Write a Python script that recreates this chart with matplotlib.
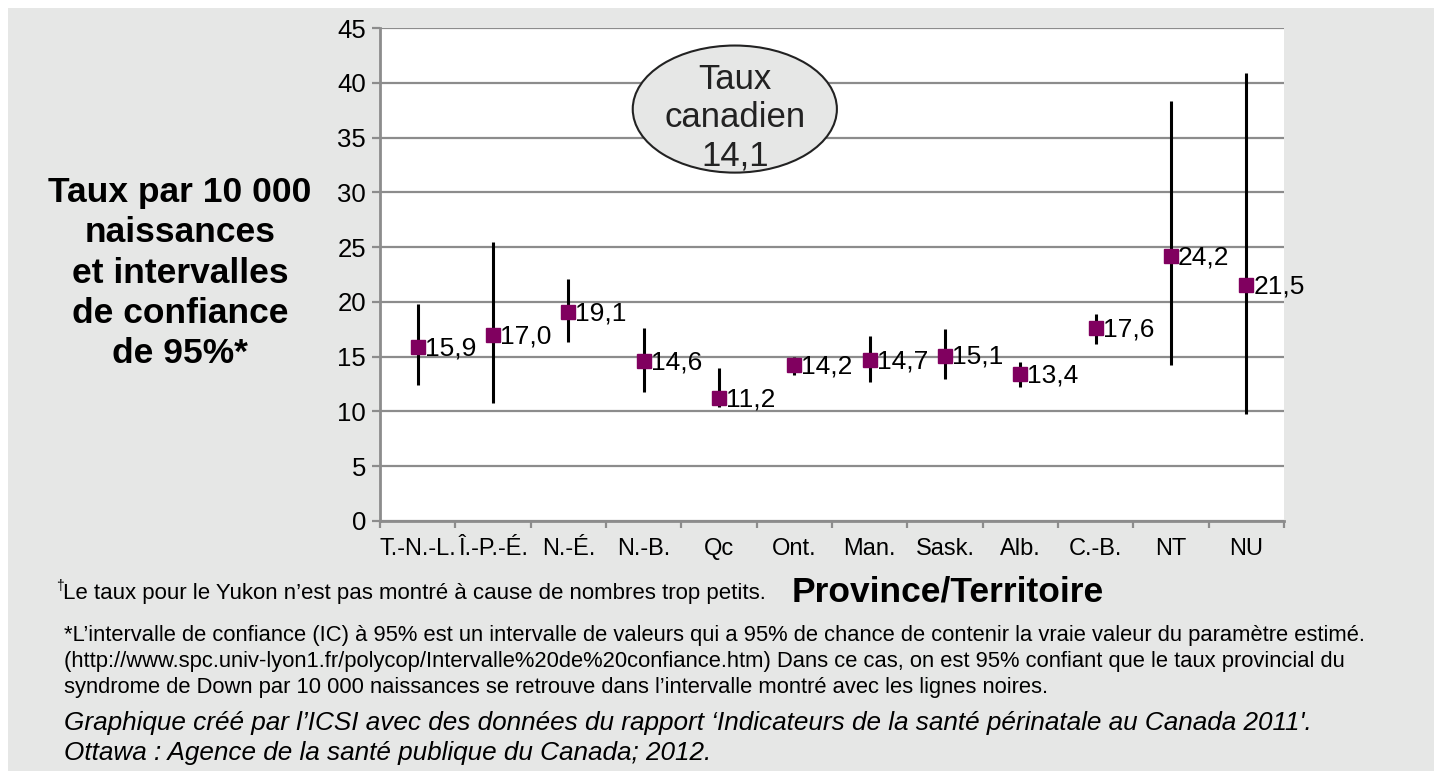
import numpy as np
import matplotlib
matplotlib.use("Agg")
import matplotlib.pyplot as plt
from matplotlib.patches import Ellipse, Rectangle

plt.rcParams['font.family'] = ['Liberation Sans', 'DejaVu Sans']

# Datos del grafico
provincias = ["T.-N.-L.", "Î.-P.-É.", "N.-É.", "N.-B.", "Qc", "Ont.",
              "Man.", "Sask.", "Alb.", "C.-B.", "NT", "NU"]
taux = [15.9, 17.0, 19.1, 14.6, 11.2, 14.2, 14.7, 15.1, 13.4, 17.6, 24.2, 21.5]
etiquetas = ["15,9", "17,0", "19,1", "14,6", "11,2", "14,2",
             "14,7", "15,1", "13,4", "17,6", "24,2", "21,5"]
ic_bas = [12.4, 10.8, 16.3, 11.8, 10.4, 13.3, 12.7, 13.0, 12.2, 16.2, 14.2, 9.8]
ic_haut = [19.8, 25.5, 22.1, 17.6, 14.0, 15.0, 16.9, 17.5, 14.5, 18.9, 38.3, 40.9]
y_ticks = [0, 5, 10, 15, 20, 25, 30, 35, 40, 45]

gris_fondo = "#e6e7e6"
gris_linea = "#8c8c8c"
color_marca = "#80005f"

fig = plt.figure(figsize=(14.34, 7.71), dpi=100)
fig.patch.set_facecolor("white")
# panel gris de fondo
fig.patches.append(Rectangle((8 / 1434, 0), 1, 1 - 8 / 771, transform=fig.transFigure,
                             facecolor=gris_fondo, edgecolor="none", zorder=-10))

ax = fig.add_axes([380 / 1434, 1 - 521 / 771, (1284 - 380) / 1434, (521 - 28) / 771])
ax.set_facecolor("white")

x = np.arange(len(provincias))

# Lineas de intervalos de confianza
ax.vlines(x, ic_bas, ic_haut, colors="black", linewidth=2.2, zorder=3)
# Marcas
ax.plot(x, taux, linestyle="none", marker="s", markersize=9.5,
        color=color_marca, zorder=4)
for xi, yi, lab in zip(x, taux, etiquetas):
    ax.annotate(lab, (xi, yi), xytext=(5, -1), textcoords="offset points",
                ha="left", va="center", fontsize=19, zorder=5)

ax.set_xlim(-0.5, len(provincias) - 0.5)
ax.set_ylim(0, 45)
ax.set_yticks(y_ticks)
ax.set_yticklabels([str(t) for t in y_ticks], fontsize=18.5)
ax.yaxis.grid(True, color=gris_linea, linewidth=1.6)
ax.set_axisbelow(True)

ax.set_xticks(x)
ax.set_xticklabels(provincias, fontsize=17)
ax.set_xticks(np.arange(-0.5, len(provincias)), minor=True)
ax.tick_params(axis="x", which="major", length=0, pad=12)
ax.tick_params(axis="x", which="minor", length=5, width=1.6, color=gris_linea)
ax.tick_params(axis="y", length=6, width=1.6, color=gris_linea, pad=4)

for s in ["top", "right"]:
    ax.spines[s].set_visible(False)
for s in ["left", "bottom"]:
    ax.spines[s].set_color(gris_linea)
    ax.spines[s].set_linewidth(2)

# Elipse del taux canadien (en coordenadas de datos)
ell = Ellipse((4.21, 37.6), 2.71, 11.6, facecolor=gris_fondo,
              edgecolor="#222222", linewidth=1.5, zorder=6)
ax.add_patch(ell)
ax.text(4.21, 36.8, "Taux\ncanadien\n14,1", ha="center", va="center",
        fontsize=25, linespacing=1.2, color="#222222", zorder=7)

# Titulo del eje y
fig.text(180 / 1434, 1 - 273 / 771,
         "Taux par 10 000\nnaissances\net intervalles\nde confiance\nde 95%*",
         ha="center", va="center", fontsize=25.5, fontweight="bold", linespacing=1.27)

# Titulo del eje x
fig.text(948 / 1434, 1 - 592 / 771, "Province/Territoire", ha="center", va="center",
         fontsize=25.5, fontweight="bold")

# Notas
fig.text(56 / 1434, 1 - 586 / 771, "†", ha="left", va="center", fontsize=10)
fig.text(63 / 1434, 1 - 594 / 771,
         "Le taux pour le Yukon n\u2019est pas montré à cause de nombres trop petits.",
         ha="left", va="center", fontsize=16)
notas = [
    "*L\u2019intervalle de confiance (IC) à 95% est un intervalle de valeurs qui a 95% de chance de contenir la vraie valeur du paramètre estimé.",
    "(http://www.spc.univ-lyon1.fr/polycop/Intervalle%20de%20confiance.htm) Dans ce cas, on est 95% confiant que le taux provincial du",
    "syndrome de Down par 10 000 naissances se retrouve dans l\u2019intervalle montré avec les lignes noires.",
]
for i, n in enumerate(notas):
    fig.text(64 / 1434, 1 - (635 + 26 * i) / 771, n, ha="left", va="center", fontsize=15.8)

fuente = [
    "Graphique créé par l\u2019ICSI avec des données du rapport \u2018Indicateurs de la santé périnatale au Canada 2011'.",
    "Ottawa : Agence de la santé publique du Canada; 2012.",
]
for i, n in enumerate(fuente):
    fig.text(64 / 1434, 1 - (723 + 30 * i) / 771, n, ha="left", va="center",
             fontsize=18.8, style="italic")

fig.savefig("out.png", dpi=100)
